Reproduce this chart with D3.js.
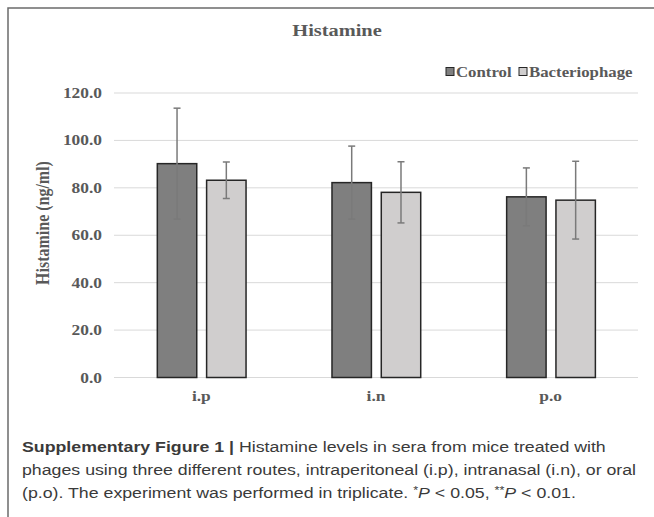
<!DOCTYPE html>
<html>
<head>
<meta charset="utf-8">
<script src="https://cdn.jsdelivr.net/npm/d3@7"></script>
<style>
  body { margin: 0; background: #fff; }
  svg { display: block; }
</style>
</head>
<body>
<svg id="chart" width="654" height="517"></svg>
<script>
// data
var categories = ["i.p", "i.n", "p.o"];
var seriesNames = ["Control", "Bacteriophage"];
var controlMeans = [90.2, 82.2, 76.2];
var controlErr = [23.4, 15.4, 12.2];
var phageMeans = [83.2, 78.1, 74.8];
var phageErr = [7.7, 12.9, 16.4];
var yTicks = [0, 20, 40, 60, 80, 100, 120];
var captionLines = [
  "phages using three different routes, intraperitoneal (i.p), intranasal (i.n), or oral",
  "(p.o). The experiment was performed in triplicate. "
];

var colors = {"Control": "#7f7f7f", "Bacteriophage": "#d0cece"};
var textGray = "#595959";
var serif = "'Liberation Serif', 'Times New Roman', serif";
var sx = 1.2; // source picture is stretched sideways

var svg = d3.select("#chart");
var plot = {left: 114, right: 638, top: 93, bottom: 377.5};

// frame of the figure
svg.append("path")
  .attr("d", "M8,517 L8,8 L654,8")
  .attr("fill", "none")
  .attr("stroke", "#6b6b6b")
  .attr("stroke-width", 1.5);

var x0 = d3.scaleBand().domain(categories).range([plot.left, plot.right]);
var x1 = d3.scaleBand().domain(seriesNames)
  .range([x0.bandwidth() * 0.248, x0.bandwidth() * 0.756])
  .paddingInner(0.2);
var y = d3.scaleLinear().domain([0, 120]).range([plot.bottom, plot.top]);

// gridlines
svg.append("g").selectAll("line")
  .data(yTicks).enter().append("line")
  .attr("x1", plot.left).attr("x2", plot.right)
  .attr("y1", function(d) { return y(d); })
  .attr("y2", function(d) { return y(d); })
  .attr("stroke", "#d9d9d9")
  .attr("stroke-width", 1);

// y tick labels
svg.append("g").selectAll("text")
  .data(yTicks).enter().append("text")
  .attr("transform", function(d) { return "translate(102," + (y(d) + 5) + ") scale(" + sx + ",1)"; })
  .attr("text-anchor", "end")
  .attr("font-family", serif)
  .attr("font-weight", "bold")
  .attr("font-size", 14.5)
  .attr("fill", textGray)
  .text(function(d) { return d.toFixed(1); });

// y axis title
svg.append("text")
  .attr("transform", "translate(49,223) rotate(-90) scale(1," + sx + ")")
  .attr("text-anchor", "middle")
  .attr("font-family", serif)
  .attr("font-weight", "bold")
  .attr("font-size", 16)
  .attr("fill", textGray)
  .text("Histamine (ng/ml)");

// bars
var rows = categories.map(function(c, i) {
  return [
    {cat: c, series: "Control", mean: controlMeans[i], err: controlErr[i]},
    {cat: c, series: "Bacteriophage", mean: phageMeans[i], err: phageErr[i]}
  ];
});

var groups = svg.append("g").selectAll("g")
  .data(rows).enter().append("g")
  .attr("transform", function(d) { return "translate(" + x0(d[0].cat) + ",0)"; });

groups.selectAll("rect")
  .data(function(d) { return d; }).enter().append("rect")
  .attr("x", function(d) { return x1(d.series); })
  .attr("y", function(d) { return y(d.mean); })
  .attr("width", x1.bandwidth())
  .attr("height", function(d) { return y(0) - y(d.mean); })
  .attr("fill", function(d) { return colors[d.series]; })
  .attr("stroke", "#262626")
  .attr("stroke-width", 1.5);

// error bars
var eb = groups.selectAll("g.err")
  .data(function(d) { return d; }).enter().append("g")
  .attr("class", "err")
  .attr("stroke", "#7a7a7a")
  .attr("stroke-width", 1.5);
eb.append("line")
  .attr("x1", function(d) { return x1(d.series) + x1.bandwidth() / 2; })
  .attr("x2", function(d) { return x1(d.series) + x1.bandwidth() / 2; })
  .attr("y1", function(d) { return y(d.mean + d.err); })
  .attr("y2", function(d) { return y(d.mean - d.err); });
[1, -1].forEach(function(s) {
  eb.append("line")
    .attr("x1", function(d) { return x1(d.series) + x1.bandwidth() / 2 - 3.5; })
    .attr("x2", function(d) { return x1(d.series) + x1.bandwidth() / 2 + 3.5; })
    .attr("y1", function(d) { return y(d.mean + s * d.err); })
    .attr("y2", function(d) { return y(d.mean + s * d.err); });
});

// category labels
svg.append("g").selectAll("text")
  .data(categories).enter().append("text")
  .attr("transform", function(d) { return "translate(" + (x0(d) + x0.bandwidth() / 2) + ",401) scale(" + sx + ",1)"; })
  .attr("text-anchor", "middle")
  .attr("font-family", serif)
  .attr("font-weight", "bold")
  .attr("font-size", 14.5)
  .attr("fill", textGray)
  .text(function(d) { return d; });

// title
svg.append("text")
  .attr("transform", "translate(337,36) scale(" + sx + ",1)")
  .attr("text-anchor", "middle")
  .attr("font-family", serif)
  .attr("font-weight", "bold")
  .attr("font-size", 17)
  .attr("fill", textGray)
  .text("Histamine");

// legend
var legendX = [446, 519];
var lg = svg.append("g").selectAll("g")
  .data(seriesNames).enter().append("g")
  .attr("transform", function(d, i) { return "translate(" + legendX[i] + ",72)"; });
lg.append("rect")
  .attr("x", 0).attr("y", -4.5)
  .attr("width", 8).attr("height", 8)
  .attr("fill", function(d) { return colors[d]; })
  .attr("stroke", "#262626")
  .attr("stroke-width", 1);
lg.append("text")
  .attr("transform", "translate(10,5) scale(" + sx + ",1)")
  .attr("font-family", serif)
  .attr("font-weight", "bold")
  .attr("font-size", 14)
  .attr("fill", textGray)
  .text(function(d) { return d; });

// caption
var cap = svg.append("g")
  .attr("transform", "translate(22,0) scale(1.145,1)")
  .attr("font-family", "'Liberation Sans', Arial, sans-serif")
  .attr("font-size", 15.5)
  .attr("fill", "#3a3a3a");
var l1 = cap.append("text").attr("x", 0).attr("y", 452);
l1.append("tspan").attr("font-weight", "bold").text("Supplementary Figure 1 | ");
l1.append("tspan").text("Histamine levels in sera from mice treated with");
cap.append("text").attr("x", 0).attr("y", 475).text(captionLines[0]);
var l3 = cap.append("text").attr("x", 0).attr("y", 498);
l3.append("tspan").text(captionLines[1]);
l3.append("tspan").attr("font-size", 11).attr("dy", -4).text("*");
l3.append("tspan").attr("font-style", "italic").attr("dy", 4).text("P");
l3.append("tspan").text(" < 0.05, ");
l3.append("tspan").attr("font-size", 11).attr("dy", -4).text("**");
l3.append("tspan").attr("font-style", "italic").attr("dy", 4).text("P");
l3.append("tspan").text(" < 0.01.");
</script>
</body>
</html>
